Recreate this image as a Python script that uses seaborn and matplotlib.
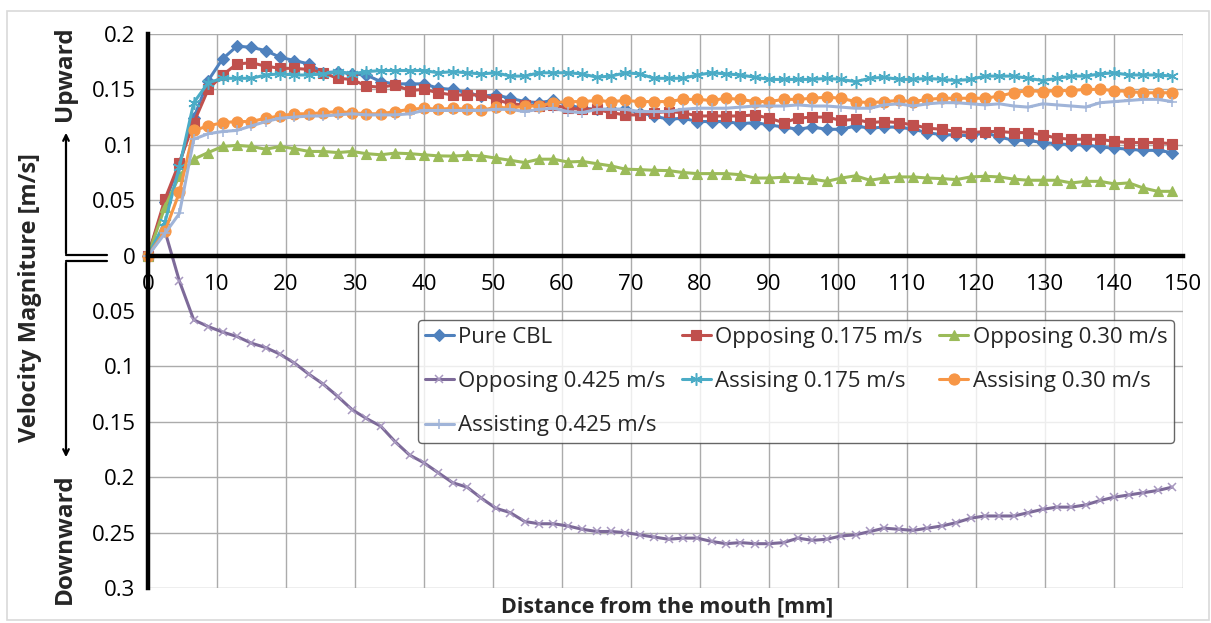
import matplotlib
matplotlib.use('Agg')
import matplotlib.pyplot as plt
import seaborn as sns
from matplotlib.lines import Line2D
from matplotlib.patches import Rectangle
from matplotlib.ticker import FuncFormatter, MultipleLocator

# ── DATA ──────────────────────────────────────────────────────────
distance_mm = [0.00, 2.46, 4.55, 6.63, 8.72, 10.80, 12.89, 14.97, 17.06, 19.14,
               21.23, 23.31, 25.40, 27.48, 29.57, 31.65, 33.74, 35.82, 37.91, 39.99,
               42.08, 44.16, 46.25, 48.33, 50.42, 52.50, 54.59, 56.67, 58.76, 60.84,
               62.93, 65.01, 67.10, 69.18, 71.27, 73.35, 75.44, 77.52, 79.61, 81.69,
               83.78, 85.86, 87.95, 90.03, 92.12, 94.20, 96.29, 98.37, 100.46, 102.54,
               104.63, 106.71, 108.80, 110.88, 112.97, 115.05, 117.14, 119.22, 121.31, 123.39,
               125.48, 127.56, 129.65, 131.73, 133.82, 135.90, 137.99, 140.07, 142.16, 144.24,
               146.33, 148.41]

pure_cbl = [0.0, 0.048, 0.083, 0.124, 0.158, 0.1775, 0.189, 0.188, 0.185, 0.179, 0.176,
            0.173, 0.165, 0.166, 0.164, 0.163, 0.157, 0.155, 0.155, 0.155, 0.151,
            0.150, 0.147, 0.144, 0.145, 0.142, 0.139, 0.138, 0.140, 0.136, 0.133,
            0.132, 0.132, 0.132, 0.129, 0.126, 0.123, 0.124, 0.121, 0.121, 0.121,
            0.119, 0.120, 0.118, 0.116, 0.114, 0.116, 0.114, 0.114, 0.117, 0.115,
            0.116, 0.116, 0.114, 0.111, 0.109, 0.109, 0.108, 0.111, 0.107, 0.104,
            0.104, 0.102, 0.101, 0.100, 0.100, 0.098, 0.097, 0.096, 0.095, 0.095, 0.093]

opposing_0175 = [0.0, 0.051, 0.084, 0.120, 0.150, 0.163, 0.173, 0.174, 0.171, 0.169, 0.169,
                 0.168, 0.165, 0.160, 0.159, 0.153, 0.152, 0.154, 0.149, 0.150, 0.147,
                 0.145, 0.145, 0.145, 0.141, 0.137, 0.136, 0.135, 0.136, 0.133, 0.132,
                 0.132, 0.129, 0.127, 0.127, 0.129, 0.130, 0.129, 0.126, 0.126, 0.126,
                 0.126, 0.127, 0.124, 0.120, 0.124, 0.125, 0.125, 0.122, 0.123, 0.120,
                 0.121, 0.120, 0.118, 0.115, 0.114, 0.112, 0.111, 0.112, 0.112, 0.111,
                 0.111, 0.109, 0.106, 0.105, 0.105, 0.105, 0.103, 0.102, 0.102, 0.102, 0.101]

opposing_030 = [0.0, 0.044, 0.072, 0.087, 0.093, 0.0985, 0.0995, 0.0985, 0.096, 0.0985, 0.0965,
                0.094, 0.094, 0.093, 0.094, 0.092, 0.091, 0.0925, 0.092, 0.091, 0.090,
                0.0898, 0.0905, 0.090, 0.088, 0.086, 0.084, 0.087, 0.087, 0.0845, 0.085,
                0.083, 0.081, 0.078, 0.0776, 0.077, 0.0767, 0.075, 0.074, 0.074, 0.074,
                0.073, 0.070, 0.070, 0.0707, 0.070, 0.069, 0.067, 0.070, 0.072, 0.068,
                0.070, 0.071, 0.071, 0.070, 0.0695, 0.0686, 0.071, 0.0716, 0.071, 0.069,
                0.068, 0.068, 0.068, 0.0656, 0.067, 0.067, 0.0647, 0.0656, 0.061, 0.058, 0.058]

opposing_0425 = [0.0, 0.022, -0.023, -0.058, -0.064, -0.069, -0.073, -0.079, -0.083, -0.089, -0.097,
                 -0.107, -0.116, -0.127, -0.139, -0.147, -0.154, -0.168, -0.180, -0.187, -0.196,
                 -0.205, -0.209, -0.219, -0.228, -0.232, -0.240, -0.242, -0.242, -0.244, -0.247,
                 -0.249, -0.249, -0.250, -0.252, -0.254, -0.256, -0.255, -0.255, -0.258, -0.260,
                 -0.259, -0.260, -0.260, -0.259, -0.255, -0.257, -0.256, -0.253, -0.252, -0.249,
                 -0.246, -0.247, -0.248, -0.246, -0.244, -0.241, -0.237, -0.235, -0.235, -0.235,
                 -0.232, -0.229, -0.227, -0.227, -0.225, -0.221, -0.218, -0.216, -0.214, -0.212, -0.209]

assisting_0175 = [0.0, 0.030, 0.080, 0.138, 0.156, 0.160, 0.160, 0.160, 0.163, 0.164, 0.163,
                  0.163, 0.164, 0.166, 0.164, 0.166, 0.167, 0.167, 0.167, 0.167, 0.165,
                  0.166, 0.165, 0.164, 0.165, 0.162, 0.162, 0.165, 0.165, 0.165, 0.164,
                  0.161, 0.162, 0.165, 0.164, 0.160, 0.160, 0.160, 0.163, 0.165, 0.164,
                  0.163, 0.161, 0.159, 0.159, 0.159, 0.159, 0.160, 0.159, 0.157, 0.160,
                  0.161, 0.159, 0.159, 0.160, 0.159, 0.158, 0.159, 0.162, 0.162, 0.162,
                  0.160, 0.158, 0.160, 0.162, 0.162, 0.164, 0.165, 0.163, 0.163, 0.163, 0.162]

assisting_030 = [0.0, 0.022, 0.057, 0.113, 0.117, 0.120, 0.121, 0.121, 0.124, 0.126, 0.128,
                 0.128, 0.129, 0.130, 0.129, 0.128, 0.128, 0.130, 0.132, 0.133, 0.132,
                 0.133, 0.132, 0.131, 0.134, 0.133, 0.135, 0.135, 0.138, 0.139, 0.139,
                 0.140, 0.139, 0.140, 0.139, 0.139, 0.139, 0.141, 0.141, 0.140, 0.142,
                 0.141, 0.139, 0.139, 0.141, 0.141, 0.142, 0.143, 0.142, 0.139, 0.138,
                 0.139, 0.140, 0.139, 0.141, 0.142, 0.142, 0.142, 0.142, 0.144, 0.147,
                 0.149, 0.148, 0.149, 0.149, 0.150, 0.150, 0.149, 0.148, 0.147, 0.147, 0.147]

assisting_0425 = [0.0, 0.020, 0.038, 0.105, 0.110, 0.112, 0.113, 0.117, 0.121, 0.124, 0.125,
                  0.126, 0.126, 0.127, 0.128, 0.127, 0.127, 0.127, 0.128, 0.131, 0.131,
                  0.131, 0.131, 0.131, 0.132, 0.132, 0.130, 0.132, 0.133, 0.130, 0.129,
                  0.132, 0.132, 0.132, 0.130, 0.130, 0.130, 0.132, 0.133, 0.133, 0.133,
                  0.134, 0.135, 0.135, 0.135, 0.136, 0.135, 0.135, 0.134, 0.133, 0.133,
                  0.136, 0.137, 0.135, 0.137, 0.138, 0.138, 0.137, 0.136, 0.137, 0.135,
                  0.134, 0.137, 0.136, 0.135, 0.134, 0.138, 0.139, 0.140, 0.141, 0.141, 0.139]

series_names = ['Pure CBL', 'Opposing 0.175 m/s', 'Opposing 0.30 m/s', 'Opposing 0.425 m/s',
                'Assising 0.175 m/s', 'Assising 0.30 m/s', 'Assisting 0.425 m/s']
series_values = [pure_cbl, opposing_0175, opposing_030, opposing_0425,
                 assisting_0175, assisting_030, assisting_0425]

# style per series: line colour, marker, marker size, marker edge colour
styles = [
    ('#4F81BD', 'D', 6.5, '#4F81BD'),
    ('#C0504D', 's', 6.5, '#C0504D'),
    ('#9BBB59', '^', 7.5, '#9BBB59'),
    ('#7D6A99', 'x', 6.0, '#A898C0'),
    ('#4BACC6', (6, 2, 0), 9.0, '#4BACC6'),
    ('#F79646', 'o', 8.0, '#F79646'),
    ('#A0B4D8', '+', 7.0, '#A0B4D8'),
]

# ── PLOT ──────────────────────────────────────────────────────────
sns.set_style('white')
plt.rcParams['font.family'] = ['Open Sans', 'DejaVu Sans']

W, H = 1211, 623
fig = plt.figure(figsize=(W / 100, H / 100), dpi=100)
ax = fig.add_axes([148 / W, 1 - 588 / H, (1183 - 148) / W, (588 - 34) / H])


def px(x, y):
    return (x / W, 1 - y / H)


for name, vals, (col, mk, ms, mec) in zip(series_names, series_values, styles):
    filled = mk in ('D', 's', '^', 'o')
    sns.lineplot(x=distance_mm, y=vals, ax=ax, color=col, marker=mk, markersize=ms,
                 markeredgecolor=mec, markerfacecolor=mec if filled else 'none',
                 markeredgewidth=0.8 if filled else 1.1, linewidth=2.2,
                 label=name, clip_on=False)

ax.set_xlim(0, 150)
ax.set_ylim(-0.3, 0.2)
ax.xaxis.set_major_locator(MultipleLocator(10))
ax.yaxis.set_major_locator(MultipleLocator(0.05))
ax.yaxis.set_major_formatter(FuncFormatter(lambda v, p: f'{round(abs(v), 3):g}'))
ax.tick_params(axis='both', length=0, labelsize=16, colors='black')
ax.tick_params(axis='x', pad=13)
ax.tick_params(axis='y', pad=9)
ax.grid(True, color='#ABABAB', linewidth=1.0)
ax.set_axisbelow(True)

for s in ['top', 'right']:
    ax.spines[s].set_visible(False)
ax.spines['bottom'].set_position(('data', 0))
ax.spines['bottom'].set_linewidth(3.2)
ax.spines['left'].set_linewidth(3.2)
ax.spines['bottom'].set_color('black')
ax.spines['left'].set_color('black')
ax.set_xlabel('')
ax.set_ylabel('')

# the "0" label sits just right of the vertical axis, as in Excel
ax.xaxis.get_major_ticks()[0].label1.set_horizontalalignment('left')

# legend, row-major order as in the reference
h, l = ax.get_legend_handles_labels()
order = [0, 3, 6, 1, 4, 2, 5]
leg = ax.legend([h[i] for i in order], [l[i] for i in order], ncol=3,
                loc='upper left', bbox_to_anchor=((418 - 148) / 1035, (588 - 320) / 554),
                borderaxespad=0, fontsize=16, frameon=True, fancybox=True,
                handlelength=1.3, handletextpad=0.2, columnspacing=0.75,
                labelspacing=1.05, borderpad=0.3)
leg.get_frame().set_edgecolor('#404040')
leg.get_frame().set_linewidth(1.0)

# axis titles
fig.text(*px(667, 607), 'Distance from the mouth [mm]', ha='center', va='center',
         fontsize=15.5, fontweight='bold')
fig.text(*px(30, 298), 'Velocity Magniture [m/s]', ha='center', va='center',
         rotation=90, fontsize=17, fontweight='bold')
fig.text(*px(65, 74), 'Upward', ha='center', va='center', rotation=90,
         fontsize=17.5, fontweight='bold')
fig.text(*px(65, 539), 'Downward', ha='center', va='center', rotation=90,
         fontsize=17.5, fontweight='bold')

# direction arrows
fig.add_artist(Line2D([66 / W, 107 / W], [1 - 255 / H, 1 - 255 / H], color='black', lw=1.6))
fig.add_artist(Line2D([66 / W, 107 / W], [1 - 261 / H, 1 - 261 / H], color='black', lw=1.6))
ax.annotate('', xy=px(66, 130), xytext=px(66, 256), xycoords='figure fraction',
            textcoords='figure fraction',
            arrowprops=dict(arrowstyle='->', lw=1.6, color='black'))
ax.annotate('', xy=px(66, 460), xytext=px(66, 260), xycoords='figure fraction',
            textcoords='figure fraction',
            arrowprops=dict(arrowstyle='->', lw=1.6, color='black'))

# light outer border of the chart area
fig.patches.append(Rectangle((7 / W, 3 / H), (1209 - 7) / W, (620 - 11) / H,
                             transform=fig.transFigure, fill=False,
                             edgecolor='#D9D9D9', linewidth=1.2))

fig.savefig('out.png', dpi=100)
